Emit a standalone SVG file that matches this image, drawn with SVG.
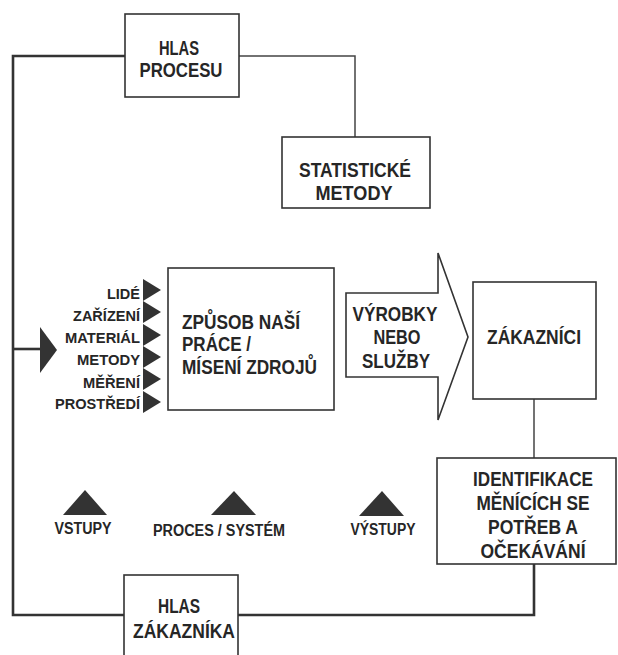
<svg xmlns="http://www.w3.org/2000/svg" width="618" height="655" viewBox="0 0 618 655">
<style>
.box{fill:#fff;stroke:#333;stroke-width:1.6}
.t{font-family:"Liberation Sans",Arial,sans-serif;font-weight:bold;fill:#262626}
.big{font-size:20.5px}
.med{font-size:16px}
.sm{font-size:15.5px}
.c{text-anchor:middle}
.r{text-anchor:end}
.thick{fill:none;stroke:#333;stroke-width:2.6}
.thin{fill:none;stroke:#444;stroke-width:1.5}
.tri{fill:#333}
</style>
<rect width="618" height="655" fill="#fff"/>
<g id="connectors">
<polyline class="thick" points="125,56 13,56 13,615 124,615"/>
<line class="thick" x1="13" y1="349" x2="41" y2="349"/>
<polyline class="thick" points="238,615 534,615 534,564"/>
<polyline class="thin" points="239,56 355,56 355,137"/>
<line class="thin" x1="534" y1="399" x2="534" y2="458"/>
<polygon class="tri" points="40,327 57,350 40,373"/>
</g>
<g id="hlas-procesu">
<rect class="box" x="125" y="14" width="114" height="83"/>
<text class="t big c" x="179" y="55" textLength="40" lengthAdjust="spacingAndGlyphs">HLAS</text>
<text class="t big c" x="181" y="77" textLength="83" lengthAdjust="spacingAndGlyphs">PROCESU</text>
</g>
<g id="statisticke-metody">
<rect class="box" x="282" y="137" width="148" height="71"/>
<text class="t big c" x="355" y="177" textLength="112" lengthAdjust="spacingAndGlyphs">STATISTICKÉ</text>
<text class="t big c" x="354" y="200" textLength="77" lengthAdjust="spacingAndGlyphs">METODY</text>
</g>
<g id="vstupy-seznam">
<text class="t sm r" x="140" y="299" textLength="33" lengthAdjust="spacingAndGlyphs">LIDÉ</text>
<text class="t sm r" x="140" y="321" textLength="67" lengthAdjust="spacingAndGlyphs">ZAŘÍZENÍ</text>
<text class="t sm r" x="140" y="343" textLength="75" lengthAdjust="spacingAndGlyphs">MATERIÁL</text>
<text class="t sm r" x="140" y="365" textLength="63" lengthAdjust="spacingAndGlyphs">METODY</text>
<text class="t sm r" x="140" y="388" textLength="57" lengthAdjust="spacingAndGlyphs">MĚŘENÍ</text>
<text class="t sm r" x="140" y="409" textLength="85" lengthAdjust="spacingAndGlyphs">PROSTŘEDÍ</text>
<polygon class="tri" points="143,279 161,290 143,301"/>
<polygon class="tri" points="143,301 161,312 143,323"/>
<polygon class="tri" points="143,324 161,335 143,346"/>
<polygon class="tri" points="143,346 161,357 143,368"/>
<polygon class="tri" points="143,368 161,379 143,390"/>
<polygon class="tri" points="143,391 161,402 143,413"/>
</g>
<g id="zpusob-prace">
<rect class="box" x="168" y="268" width="166" height="142"/>
<text class="t big" x="182" y="329" textLength="118" lengthAdjust="spacingAndGlyphs">ZPŮSOB NAŠÍ</text>
<text class="t big" x="182" y="351" textLength="69" lengthAdjust="spacingAndGlyphs">PRÁCE /</text>
<text class="t big" x="182" y="374" textLength="135" lengthAdjust="spacingAndGlyphs">MÍSENÍ ZDROJŮ</text>
</g>
<g id="vyrobky">
<polygon class="box" points="346,293 438,293 438,253 468,337 438,420 438,377 346,377"/>
<text class="t big c" x="395" y="321" textLength="85" lengthAdjust="spacingAndGlyphs">VÝROBKY</text>
<text class="t big c" x="397" y="344" textLength="47" lengthAdjust="spacingAndGlyphs">NEBO</text>
<text class="t big c" x="396" y="368" textLength="68" lengthAdjust="spacingAndGlyphs">SLUŽBY</text>
</g>
<g id="zakaznici">
<rect class="box" x="473" y="282" width="123" height="117"/>
<text class="t big c" x="534" y="344" textLength="94" lengthAdjust="spacingAndGlyphs">ZÁKAZNÍCI</text>
</g>
<g id="identifikace">
<rect class="box" x="437" y="458" width="179" height="106"/>
<text class="t big c" x="533" y="486" textLength="120" lengthAdjust="spacingAndGlyphs">IDENTIFIKACE</text>
<text class="t big c" x="533" y="510" textLength="113" lengthAdjust="spacingAndGlyphs">MĚNÍCÍCH SE</text>
<text class="t big c" x="533" y="534" textLength="90" lengthAdjust="spacingAndGlyphs">POTŘEB A</text>
<text class="t big c" x="533" y="558" textLength="105" lengthAdjust="spacingAndGlyphs">OČEKÁVÁNÍ</text>
</g>
<g id="hlas-zakaznika">
<rect class="box" x="124" y="575" width="114" height="95"/>
<text class="t big c" x="179" y="613" textLength="42" lengthAdjust="spacingAndGlyphs">HLAS</text>
<text class="t big c" x="184" y="638" textLength="102" lengthAdjust="spacingAndGlyphs">ZÁKAZNÍKA</text>
</g>
<g id="legenda-vstupy">
<polygon class="tri" points="63,515 85,490 107,515"/>
<text class="t med c" x="83" y="534" textLength="57" lengthAdjust="spacingAndGlyphs">VSTUPY</text>
</g>
<g id="legenda-proces">
<polygon class="tri" points="211,515 234,491 256,515"/>
<text class="t med c" x="219" y="536" textLength="132" lengthAdjust="spacingAndGlyphs">PROCES / SYSTÉM</text>
</g>
<g id="legenda-vystupy">
<polygon class="tri" points="359,516 382,491 404,516"/>
<text class="t med c" x="383" y="535" textLength="65" lengthAdjust="spacingAndGlyphs">VÝSTUPY</text>
</g>
</svg>
